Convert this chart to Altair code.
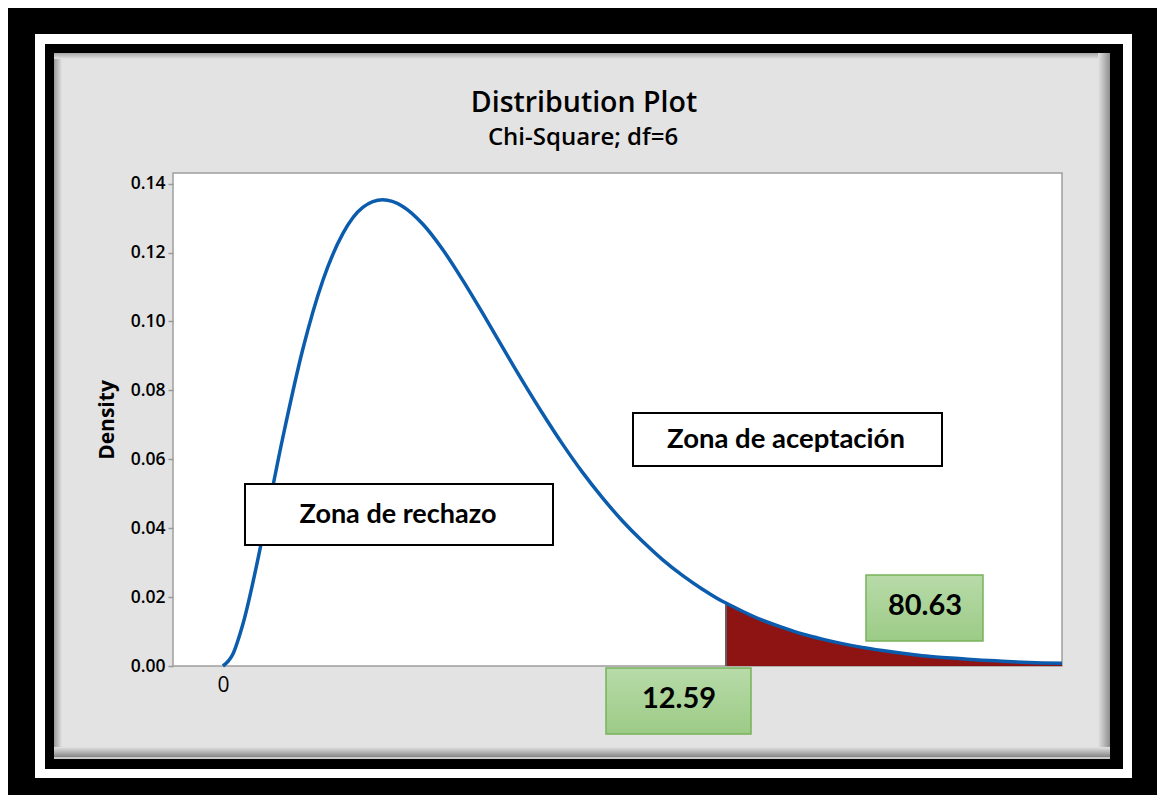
import altair as alt
import pandas as pd

# ---- data ----
chi_x = [0.0, 0.25, 0.5, 1.0, 1.5, 2.0, 2.5, 3.0, 3.5, 4.0, 4.5, 5.0, 5.5, 6.0, 6.5,
         7.0, 7.5, 8.0, 8.5, 9.0, 9.5, 10.0, 10.5, 11.0, 11.5, 12.0, 12.5, 12.59,
         13.0, 13.5, 14.0, 14.5, 15.0, 15.5, 16.0, 16.5, 17.0, 17.5, 18.0, 18.5,
         19.0, 19.5, 20.0, 20.5, 21.0]
density = [0.0, 0.0035, 0.0122, 0.0379, 0.0664, 0.0920, 0.1119, 0.1255, 0.1331, 0.1353,
           0.1334, 0.1283, 0.1209, 0.1120, 0.1024, 0.0925, 0.0827, 0.0733, 0.0644,
           0.0562, 0.0488, 0.0421, 0.0362, 0.0309, 0.0263, 0.0223, 0.0188, 0.0183,
           0.0159, 0.0133, 0.0112, 0.0093, 0.0078, 0.0065, 0.0054, 0.0045, 0.0037,
           0.0030, 0.0025, 0.0021, 0.0017, 0.0014, 0.0011, 0.0009, 0.0008]
y_ticks = [0.00, 0.02, 0.04, 0.06, 0.08, 0.10, 0.12, 0.14]
x_ticks = [0]
critical_value = 12.59
statistic_label = "80.63"
critical_label = "12.59"
title_text = "Distribution Plot"
subtitle_text = "Chi-Square; df=6"
zone_reject = "Zona de rechazo"
zone_accept = "Zona de aceptación"
y_title = "Density"

df = pd.DataFrame({"x": chi_x, "d": density})

# ---- layout (page pixels) ----
OX, OY = 173, 173          # plot origin on the page
W, H = 889, 493            # plot area
PAD_L, PAD_T = OX - 8, OY - 8
PAD_R = 1149 - PAD_L - W
PAD_B = 787 - PAD_T - H

xs = alt.Scale(domain=[-1.25, 21.0], nice=False, zero=False)
ys = alt.Scale(domain=[0, 0.1431], nice=False, zero=False)

xax = alt.Axis(values=x_ticks, labelExpr="datum.value == 0 ? '0' : ''", ticks=False,
               domain=False, grid=False, labelFont="Open Sans", labelFontSize=21,
               labelFontWeight="normal", labelColor="#000000", labelPadding=8,
               title=None, zindex=2)
yax = alt.Axis(values=y_ticks, format=".2f", domain=False, grid=False, ticks=True,
               tickSize=5, tickColor="#9a9a9a", tickWidth=1.5, labelPadding=3,
               labelFont="Open Sans", labelFontSize=17.5, labelFontWeight=600,
               labelColor="#000000", title=y_title, titleFont="Open Sans",
               titleFontSize=21, titleFontWeight=700, titleColor="#000000",
               titlePadding=13, zindex=2)

X = alt.X("x:Q", scale=xs, axis=xax)
Y = alt.Y("d:Q", scale=ys, axis=yax)

one = pd.DataFrame({"k": [0]})


def box(x1, y1, x2, y2, **mk):
    return alt.Chart(one).mark_rect(**mk).encode(
        x=alt.value(x1 - OX), x2=alt.value(x2 - OX),
        y=alt.value(y1 - OY), y2=alt.value(y2 - OY))


def label(txt, x, y, **mk):
    return alt.Chart(one).mark_text(text=txt, align="center", baseline="alphabetic", **mk).encode(
        x=alt.value(x - OX), y=alt.value(y - OY))


def grad(c1, c2, horizontal=False):
    return alt.LinearGradient(
        gradient="linear",
        stops=[alt.GradientStop(color=c1, offset=0), alt.GradientStop(color=c2, offset=1)],
        x1=0, y1=0, x2=1 if horizontal else 0, y2=0 if horizontal else 1)


GRAY = "#e3e3e3"
frames = [
    box(0, 0, 1200, 900, fill="#000000"),
    box(35, 34, 1132, 778, fill="#ffffff"),
    box(45, 44, 1123, 769, fill="#000000"),
    box(54, 53, 1110, 759, fill="#c9c9c9"),
    box(54, 53, 1110, 757, fill=GRAY),
    box(54, 53, 62, 757, fill=grad("#9a9a9a", GRAY, True)),
    box(54, 53, 1110, 59, fill=grad("#a5a5a5", GRAY)),
    box(1098, 53, 1110, 757, fill=grad(GRAY, "#8f8f8f", True)),
    box(54, 747, 1110, 757, fill=grad(GRAY, "#858585")),
    box(OX, OY, OX + W, OY + H, fill="#ffffff", stroke="#9f9f9f", strokeWidth=1.5),
]

tail = alt.Chart(df).transform_filter(alt.datum.x >= critical_value).mark_area(
    color="#8e1313", interpolate="monotone").encode(x=X, y=Y, y2=alt.datum(0))

crit = alt.Chart(df).transform_filter(alt.datum.x == critical_value).mark_rule(
    color="#5f5f5f", strokeWidth=2).encode(x=X, y=Y, y2=alt.datum(0))

curve = alt.Chart(df).mark_line(color="#0b5cad", strokeWidth=3.5, interpolate="monotone").encode(x=X, y=Y)

green = grad("#b8dba9", "#9ccb86")
annots = [
    box(245, 484, 553, 545, fill="#ffffff", stroke="#000000", strokeWidth=2),
    label(zone_reject, 398, 523, font="Lato", fontSize=27, fontWeight="bold", color="#000000"),
    box(633, 413, 942, 466, fill="#ffffff", stroke="#000000", strokeWidth=2),
    label(zone_accept, 786, 448, font="Lato", fontSize=27.5, fontWeight="bold", color="#000000"),
    box(606, 668, 751, 734, fill=green, stroke="#77b35a", strokeWidth=1.5),
    label(critical_label, 679, 708, font="Lato", fontSize=29, fontWeight="bold", color="#000000"),
    box(866, 575, 983, 641, fill=green, stroke="#77b35a", strokeWidth=1.5),
    label(statistic_label, 925, 615, font="Lato", fontSize=29, fontWeight="bold", color="#000000"),
    label(title_text, 584, 112, font="Open Sans", fontSize=28.5, fontWeight=600, color="#000000"),
    label(subtitle_text, 583, 145, font="Open Sans", fontSize=24, fontWeight=600, color="#000000"),
]

chart = alt.layer(*frames, tail, crit, curve, *annots).properties(
    width=W, height=H,
    autosize=alt.AutoSizeParams(type="none"),
    padding={"left": PAD_L, "top": PAD_T, "right": PAD_R, "bottom": PAD_B},
    background="#ffffff",
).configure_view(stroke=None)

chart.save("out.html", embed_options={"renderer": "svg", "actions": False})
